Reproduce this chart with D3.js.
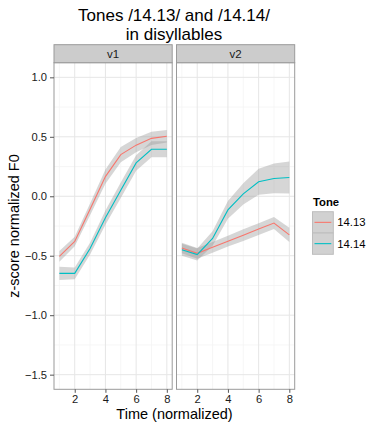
<!DOCTYPE html>
<html>
<head>
<meta charset="utf-8">
<script src="https://cdn.jsdelivr.net/npm/d3@7"></script>
<style>
  html, body { margin: 0; padding: 0; background: #fff; }
  svg { display: block; font-family: "Liberation Sans", Arial, sans-serif; }
</style>
</head>
<body>
<svg id="chart" width="368" height="424"></svg>
<script>
// Time points (normalized) and facets
const times = [1, 2, 3, 4, 5, 6, 7, 8];
const vowels = ["v1", "v2"];
const tones = ["14.13", "14.14"];
const toneColors = ["#F8766D", "#00BFC4"];

// Mean z-scored F0 per tone, per vowel
const v1_1413 = [-0.505, -0.38, -0.11, 0.165, 0.35, 0.43, 0.487, 0.505];
const v1_1414 = [-0.648, -0.648, -0.44, -0.18, 0.05, 0.28, 0.395, 0.395];
const v2_1413 = [-0.435, -0.48, -0.429, -0.378, -0.327, -0.276, -0.225, -0.325];
const v2_1414 = [-0.45, -0.49, -0.355, -0.115, 0.02, 0.122, 0.15, 0.158];

// Half-widths of the confidence bands
const v1_1413_se = [0.045, 0.04, 0.05, 0.06, 0.065, 0.06, 0.055, 0.053];
const v1_1414_se = [0.055, 0.05, 0.05, 0.06, 0.065, 0.065, 0.067, 0.067];
const v2_1413_se = [0.045, 0.045, 0.045, 0.045, 0.05, 0.05, 0.05, 0.06];
const v2_1414_se = [0.05, 0.05, 0.06, 0.075, 0.09, 0.11, 0.125, 0.135];

const xTicks = [2, 4, 6, 8];
const xMinor = [1, 3, 5, 7];
const yTicks = [1.0, 0.5, 0.0, -0.5, -1.0, -1.5];
const yMinor = [0.75, 0.25, -0.25, -0.75, -1.25];

const panels = [
  { name: vowels[0], series: [v1_1413, v1_1414], se: [v1_1413_se, v1_1414_se] },
  { name: vowels[1], series: [v2_1413, v2_1414], se: [v2_1413_se, v2_1414_se] }
];

const svg = d3.select("#chart");

// Layout
const panelTop = 62.7, panelBottom = 389.3;
const stripTop = 44.7;
const panelLefts = [54, 176.5];
const panelW = 118.2;

const y = d3.scaleLinear().domain([-1.623, 1.123]).range([panelBottom, panelTop]);

const gridMajor = "#e6e6e6", gridMinor = "#f4f4f4", borderCol = "#9a9a9a";

panels.forEach((p, pi) => {
  const x0 = panelLefts[pi];
  const x = d3.scaleLinear().domain([0.65, 8.35]).range([x0, x0 + panelW]);
  const g = svg.append("g");

  // panel background
  g.append("rect").attr("x", x0).attr("y", panelTop)
    .attr("width", panelW).attr("height", panelBottom - panelTop)
    .attr("fill", "#fff");

  // minor grid
  xMinor.forEach(t => g.append("line")
    .attr("x1", x(t)).attr("x2", x(t)).attr("y1", panelTop).attr("y2", panelBottom)
    .attr("stroke", gridMinor).attr("stroke-width", 0.8));
  yMinor.forEach(t => g.append("line")
    .attr("x1", x0).attr("x2", x0 + panelW).attr("y1", y(t)).attr("y2", y(t))
    .attr("stroke", gridMinor).attr("stroke-width", 0.8));
  // major grid
  xTicks.forEach(t => g.append("line")
    .attr("x1", x(t)).attr("x2", x(t)).attr("y1", panelTop).attr("y2", panelBottom)
    .attr("stroke", gridMajor).attr("stroke-width", 1));
  yTicks.forEach(t => g.append("line")
    .attr("x1", x0).attr("x2", x0 + panelW).attr("y1", y(t)).attr("y2", y(t))
    .attr("stroke", gridMajor).attr("stroke-width", 1));

  // confidence bands
  const area = d3.area()
    .x(d => x(d.t)).y0(d => y(d.v - d.s)).y1(d => y(d.v + d.s));
  p.series.forEach((vals, si) => {
    const rows = times.map((t, i) => ({ t, v: vals[i], s: p.se[si][i] }));
    g.append("path").datum(rows).attr("d", area)
      .attr("fill", "#999999").attr("fill-opacity", 0.4);
  });

  // mean lines
  const line = d3.line().x(d => x(d.t)).y(d => y(d.v));
  p.series.forEach((vals, si) => {
    const rows = times.map((t, i) => ({ t, v: vals[i] }));
    g.append("path").datum(rows).attr("d", line)
      .attr("fill", "none").attr("stroke", toneColors[si]).attr("stroke-width", 1.1);
  });

  // panel border
  g.append("rect").attr("x", x0).attr("y", panelTop)
    .attr("width", panelW).attr("height", panelBottom - panelTop)
    .attr("fill", "none").attr("stroke", borderCol).attr("stroke-width", 1);

  // strip
  g.append("rect").attr("x", x0).attr("y", stripTop)
    .attr("width", panelW).attr("height", panelTop - stripTop)
    .attr("fill", "#cccccc").attr("stroke", borderCol).attr("stroke-width", 1);
  g.append("text").attr("x", x0 + panelW / 2).attr("y", (stripTop + panelTop) / 2 + 4)
    .attr("text-anchor", "middle").attr("font-size", 11.5).attr("fill", "#1a1a1a")
    .text(p.name);

  // x axis
  const xAxis = d3.axisBottom(x).tickValues(xTicks).tickSize(3.5).tickPadding(2.5).tickFormat(d3.format("d"));
  const ax = g.append("g").attr("transform", `translate(0,${panelBottom})`).call(xAxis);
  ax.select(".domain").remove();
  ax.selectAll(".tick line").attr("stroke", "#555");
  ax.selectAll(".tick text").attr("font-size", 11.2).attr("fill", "#1a1a1a")
    .attr("font-family", "Liberation Sans, Arial, sans-serif");

  if (pi === 0) {
    const yAxis = d3.axisLeft(y).tickValues(yTicks).tickSize(4).tickPadding(3).tickFormat(d3.format(".1f"));
    const ay = g.append("g").attr("transform", `translate(${x0},0)`).call(yAxis);
    ay.select(".domain").remove();
    ay.selectAll(".tick line").attr("stroke", "#555");
    ay.selectAll(".tick text").attr("font-size", 11.2).attr("fill", "#1a1a1a")
      .attr("font-family", "Liberation Sans, Arial, sans-serif");
  }
});

// Titles
const titleLines = ["Tones /14.13/ and /14.14/", "in disyllables"];
titleLines.forEach((t, i) => {
  svg.append("text").attr("x", 174).attr("y", 20.5 + i * 19)
    .attr("text-anchor", "middle").attr("font-size", 17).attr("fill", "#000").text(t);
});

svg.append("text").attr("x", 174.5).attr("y", 419).attr("text-anchor", "middle")
  .attr("font-size", 14.5).attr("fill", "#000").text("Time (normalized)");

svg.append("text").attr("transform", `translate(19,${(panelTop + panelBottom) / 2}) rotate(-90)`)
  .attr("text-anchor", "middle").attr("font-size", 14.5).attr("fill", "#000")
  .text("z-score normalized F0");

// Legend
const lg = svg.append("g");
lg.append("text").attr("x", 313).attr("y", 206).attr("font-size", 11.3)
  .attr("font-weight", "bold").attr("fill", "#000").text("Tone");
tones.forEach((t, i) => {
  const ky = 211.7 + i * 21.3;
  lg.append("rect").attr("x", 312.5).attr("y", ky).attr("width", 20.8).attr("height", 21.3)
    .attr("fill", "#d1d1d1").attr("stroke", "#bdbdbd").attr("stroke-width", 1);
  lg.append("line").attr("x1", 314.5).attr("x2", 331.3).attr("y1", ky + 10.65).attr("y2", ky + 10.65)
    .attr("stroke", toneColors[i]).attr("stroke-width", 1.1);
  lg.append("text").attr("x", 337.3).attr("y", ky + 14.6).attr("font-size", 11.3)
    .attr("fill", "#000").text(t);
});
</script>
</body>
</html>
